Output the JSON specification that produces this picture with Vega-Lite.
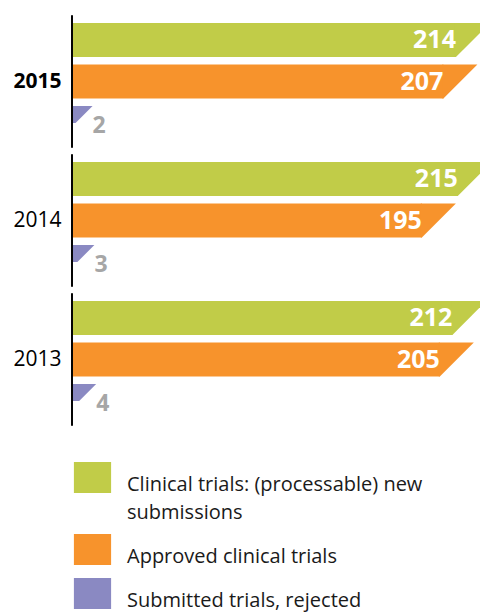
{
  "$schema": "https://vega.github.io/schema/vega-lite/v6.json",
  "width": 408,
  "height": 417,
  "autosize": {"type": "none"},
  "padding": {"left": 72, "top": 12, "right": 0, "bottom": 183},
  "background": "white",
  "config": {"view": {"stroke": null}, "font": "Open Sans", "style": {"guide-label": {"lineHeight": 28, "dy": -3}}},
  "data": {
    "values": [
      {"year": "2015", "series": "Clinical trials: (processable) new submissions", "value": 214},
      {"year": "2015", "series": "Approved clinical trials", "value": 207},
      {"year": "2015", "series": "Submitted trials, rejected", "value": 2},
      {"year": "2014", "series": "Clinical trials: (processable) new submissions", "value": 215},
      {"year": "2014", "series": "Approved clinical trials", "value": 195},
      {"year": "2014", "series": "Submitted trials, rejected", "value": 3},
      {"year": "2013", "series": "Clinical trials: (processable) new submissions", "value": 212},
      {"year": "2013", "series": "Approved clinical trials", "value": 205},
      {"year": "2013", "series": "Submitted trials, rejected", "value": 4}
    ]
  },
  "layer": [
    {
      "transform": [{"filter": "datum.series != 'Submitted trials, rejected'"}],
      "mark": {"type": "bar"},
      "encoding": {
        "y": {"field": "year", "type": "ordinal", "sort": ["2015", "2014", "2013"], "scale": {"paddingInner": 0.158, "paddingOuter": 0.079},
          "axis": {"title": null, "domain": false, "ticks": false, "labelFontSize": 21, "labelColor": "black", "labelPadding": 11, "labelOffset": 3, "labelFont": "Open Sans",
            "labelFontWeight": {"condition": {"test": "datum.value == '2015'", "value": "bold"}, "value": "normal"}}},
        "yOffset": {"field": "series", "type": "nominal", "sort": ["Clinical trials: (processable) new submissions", "Approved clinical trials", "Submitted trials, rejected"], "scale": {"paddingInner": 0.18, "paddingOuter": 0}},
        "x": {"field": "value", "type": "quantitative", "scale": {"domain": [0, 227.4], "nice": false}, "axis": null},
        "color": {"field": "series", "type": "nominal",
          "scale": {"domain": ["Clinical trials: (processable) new submissions", "Approved clinical trials", "Submitted trials, rejected"], "range": ["#c1cc48", "#f7932c", "#8a89c2"]},
          "legend": {"title": null, "orient": "none", "legendX": 5, "legendY": 450, "padding": 0,
            "symbolType": "M-1.2,-1L1.2,-1L1.2,1L-1.2,1Z", "symbolSize": 961, "symbolStrokeWidth": 0, "symbolOpacity": 1,
            "labelFont": "Open Sans", "labelFontSize": 20, "labelColor": "#1a1a1a", "labelLimit": 400, "labelBaseline": "top", "labelOffset": 19, "rowPadding": 11,
            "labelExpr": "datum.label == 'Clinical trials: (processable) new submissions' ? ['Clinical trials: (processable) new', 'submissions'] : datum.label"}}
      }
    },
    {
      "transform": [{"filter": "datum.series != 'Submitted trials, rejected'"}],
      "mark": {"type": "point", "shape": "M-0.06,-1L2,-1L0,1L-0.06,1Z", "size": 1156, "filled": true, "opacity": 1, "strokeWidth": 0},
      "encoding": {
        "y": {"field": "year", "type": "ordinal", "sort": ["2015", "2014", "2013"]},
        "yOffset": {"field": "series", "type": "nominal", "sort": ["Clinical trials: (processable) new submissions", "Approved clinical trials", "Submitted trials, rejected"]},
        "x": {"field": "value", "type": "quantitative"},
        "color": {"field": "series", "type": "nominal"}
      }
    },
    {
      "transform": [{"filter": "datum.series == 'Submitted trials, rejected'"}],
      "mark": {"type": "point", "shape": "M-1.2,-2L2,-2L0,0L-1.2,0Z", "size": 289, "filled": true, "opacity": 1, "strokeWidth": 0, "clip": true},
      "encoding": {
        "y": {"field": "year", "type": "ordinal", "sort": ["2015", "2014", "2013"]},
        "yOffset": {"field": "series", "type": "nominal", "sort": ["Clinical trials: (processable) new submissions", "Approved clinical trials", "Submitted trials, rejected"]},
        "x": {"field": "value", "type": "quantitative"},
        "color": {"field": "series", "type": "nominal"}
      }
    },
    {
      "transform": [{"filter": "datum.series != 'Submitted trials, rejected'"}],
      "mark": {"type": "text", "align": "right", "baseline": "middle", "dx": 0, "dy": 0, "font": "Open Sans", "fontSize": 25, "fontWeight": "bold", "color": "white"},
      "encoding": {
        "y": {"field": "year", "type": "ordinal", "sort": ["2015", "2014", "2013"]},
        "yOffset": {"field": "series", "type": "nominal", "sort": ["Clinical trials: (processable) new submissions", "Approved clinical trials", "Submitted trials, rejected"]},
        "x": {"field": "value", "type": "quantitative"},
        "text": {"field": "value", "type": "quantitative"}
      }
    },
    {
      "transform": [{"filter": "datum.series == 'Submitted trials, rejected'"}],
      "mark": {"type": "text", "align": "left", "baseline": "middle", "dx": 17, "dy": 3, "font": "Open Sans", "fontSize": 23, "fontWeight": "bold", "color": "#a6a6a6"},
      "encoding": {
        "y": {"field": "year", "type": "ordinal", "sort": ["2015", "2014", "2013"]},
        "yOffset": {"field": "series", "type": "nominal", "sort": ["Clinical trials: (processable) new submissions", "Approved clinical trials", "Submitted trials, rejected"]},
        "x": {"field": "value", "type": "quantitative"},
        "text": {"field": "value", "type": "quantitative"}
      }
    },
    {
      "mark": {"type": "tick", "thickness": 1.5, "size": 132, "color": "black", "opacity": 1},
      "encoding": {
        "y": {"field": "year", "type": "ordinal", "sort": ["2015", "2014", "2013"]},
        "x": {"datum": 0}
      }
    }
  ]
}
